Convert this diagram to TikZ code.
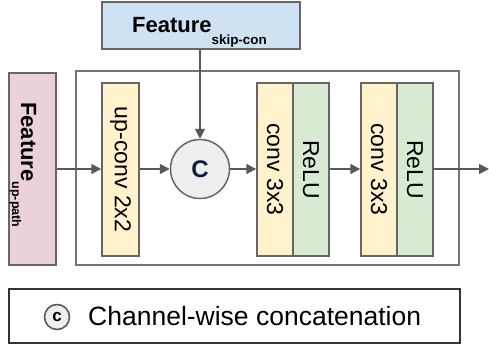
\documentclass[tikz,border=0pt]{standalone}
\usepackage{fontspec}
\setmainfont{Liberation Sans}
\usetikzlibrary{arrows.meta}
\definecolor{skipblue}{HTML}{CFE2F3}
\definecolor{uppink}{HTML}{EAD1DC}
\definecolor{convyellow}{HTML}{FFF2CC}
\definecolor{relugreen}{HTML}{D9EAD3}
\definecolor{linegray}{HTML}{666666}
\definecolor{arrowgray}{HTML}{595959}
\definecolor{circfill}{HTML}{EEEEEE}
\definecolor{navy}{HTML}{0D1B3E}
\tikzset{
  box/.style={draw=linegray, line width=1.5pt, rectangle, inner sep=0pt},
  rotlabel/.style={rotate=-90, inner sep=0pt, font=\fontsize{23}{23}\selectfont},
  conn/.style={draw=arrowgray, line width=1.5pt, -{Triangle[length=10pt,width=10pt]}},
}
\begin{document}
\begin{tikzpicture}[x=1pt,y=-1pt]
\useasboundingbox (0,0) rectangle (489,345);
% outer container
\node[box, draw=linegray!90, minimum width=383pt, minimum height=194pt] (container) at (267.5,168) {};
% skip feature box
\node[box, fill=skipblue, minimum width=198pt, minimum height=47pt] (skip) at (201,25.5) {};
\node[anchor=base west, inner sep=0pt] (skiptext) at (132,33)
  {{\bfseries\fontsize{22}{22}\selectfont Feature}\raisebox{-12pt}{\bfseries\fontsize{13.4}{13}\selectfont skip-con}};
% up-path feature box
\node[box, fill=uppink, minimum width=47pt, minimum height=192pt] (up) at (32.5,169) {};
\node[anchor=base west, rotate=-90, inner sep=0pt] (uptext) at (21,102)
  {{\bfseries\fontsize{22}{22}\selectfont Feature}\raisebox{-9pt}{\bfseries\fontsize{12.5}{12}\selectfont up-path}};
% up-conv
\node[box, fill=convyellow, minimum width=37pt, minimum height=173pt] (upconv) at (120.5,169.5) {};
\node[rotlabel] (upconvtext) at (upconv) {up-conv 2x2};
% concat circle
\node[circle, draw=linegray, line width=1.5pt, fill=circfill, minimum size=59pt, inner sep=0pt,
      font=\bfseries\fontsize{24}{24}\selectfont, text=navy] (circ) at (200,169) {C};
% conv blocks
\node[box, fill=convyellow, minimum width=36pt, minimum height=173pt] (conva) at (275,169.5) {};
\node[box, fill=relugreen, minimum width=36pt, minimum height=173pt] (relua) at (311,169.5) {};
\node[box, fill=convyellow, minimum width=36pt, minimum height=173pt] (convb) at (379,169.5) {};
\node[box, fill=relugreen, minimum width=36pt, minimum height=173pt] (relub) at (415,169.5) {};
\node[rotlabel] (convatext) at (conva) {conv 3x3};
\node[rotlabel] (reluatext) at (relua) {ReLU};
\node[rotlabel] (convbtext) at (convb) {conv 3x3};
\node[rotlabel] (relubtext) at (relub) {ReLU};
\coordinate (out) at (489,169);
% connectors
\draw[conn] (up.east |- circ) -- (upconv.west |- circ);
\draw[conn] (upconv.east |- circ) -- (circ.west);
\draw[conn] (circ.east) -- (conva.west |- circ);
\draw[conn] (relua.east |- circ) -- (convb.west |- circ);
\draw[conn] (relub.east |- circ) -- (out);
\draw[conn] (skip.south -| circ) -- (circ.north);
% legend
\node[draw=black!80, line width=1.5pt, minimum width=451pt, minimum height=54pt, inner sep=0pt] (legend) at (234.5,316) {};
\node[circle, draw=black!65, line width=1.6pt, fill=circfill, minimum size=25pt, inner sep=0pt,
      font=\bfseries\fontsize{17}{17}\selectfont] (legcirc) at (57,317) {c};
\node[anchor=base west, inner sep=0pt, font=\fontsize{26.5}{26.5}\selectfont] (legtext) at (88,325) {Channel-wise concatenation};
\end{tikzpicture}
\end{document}
